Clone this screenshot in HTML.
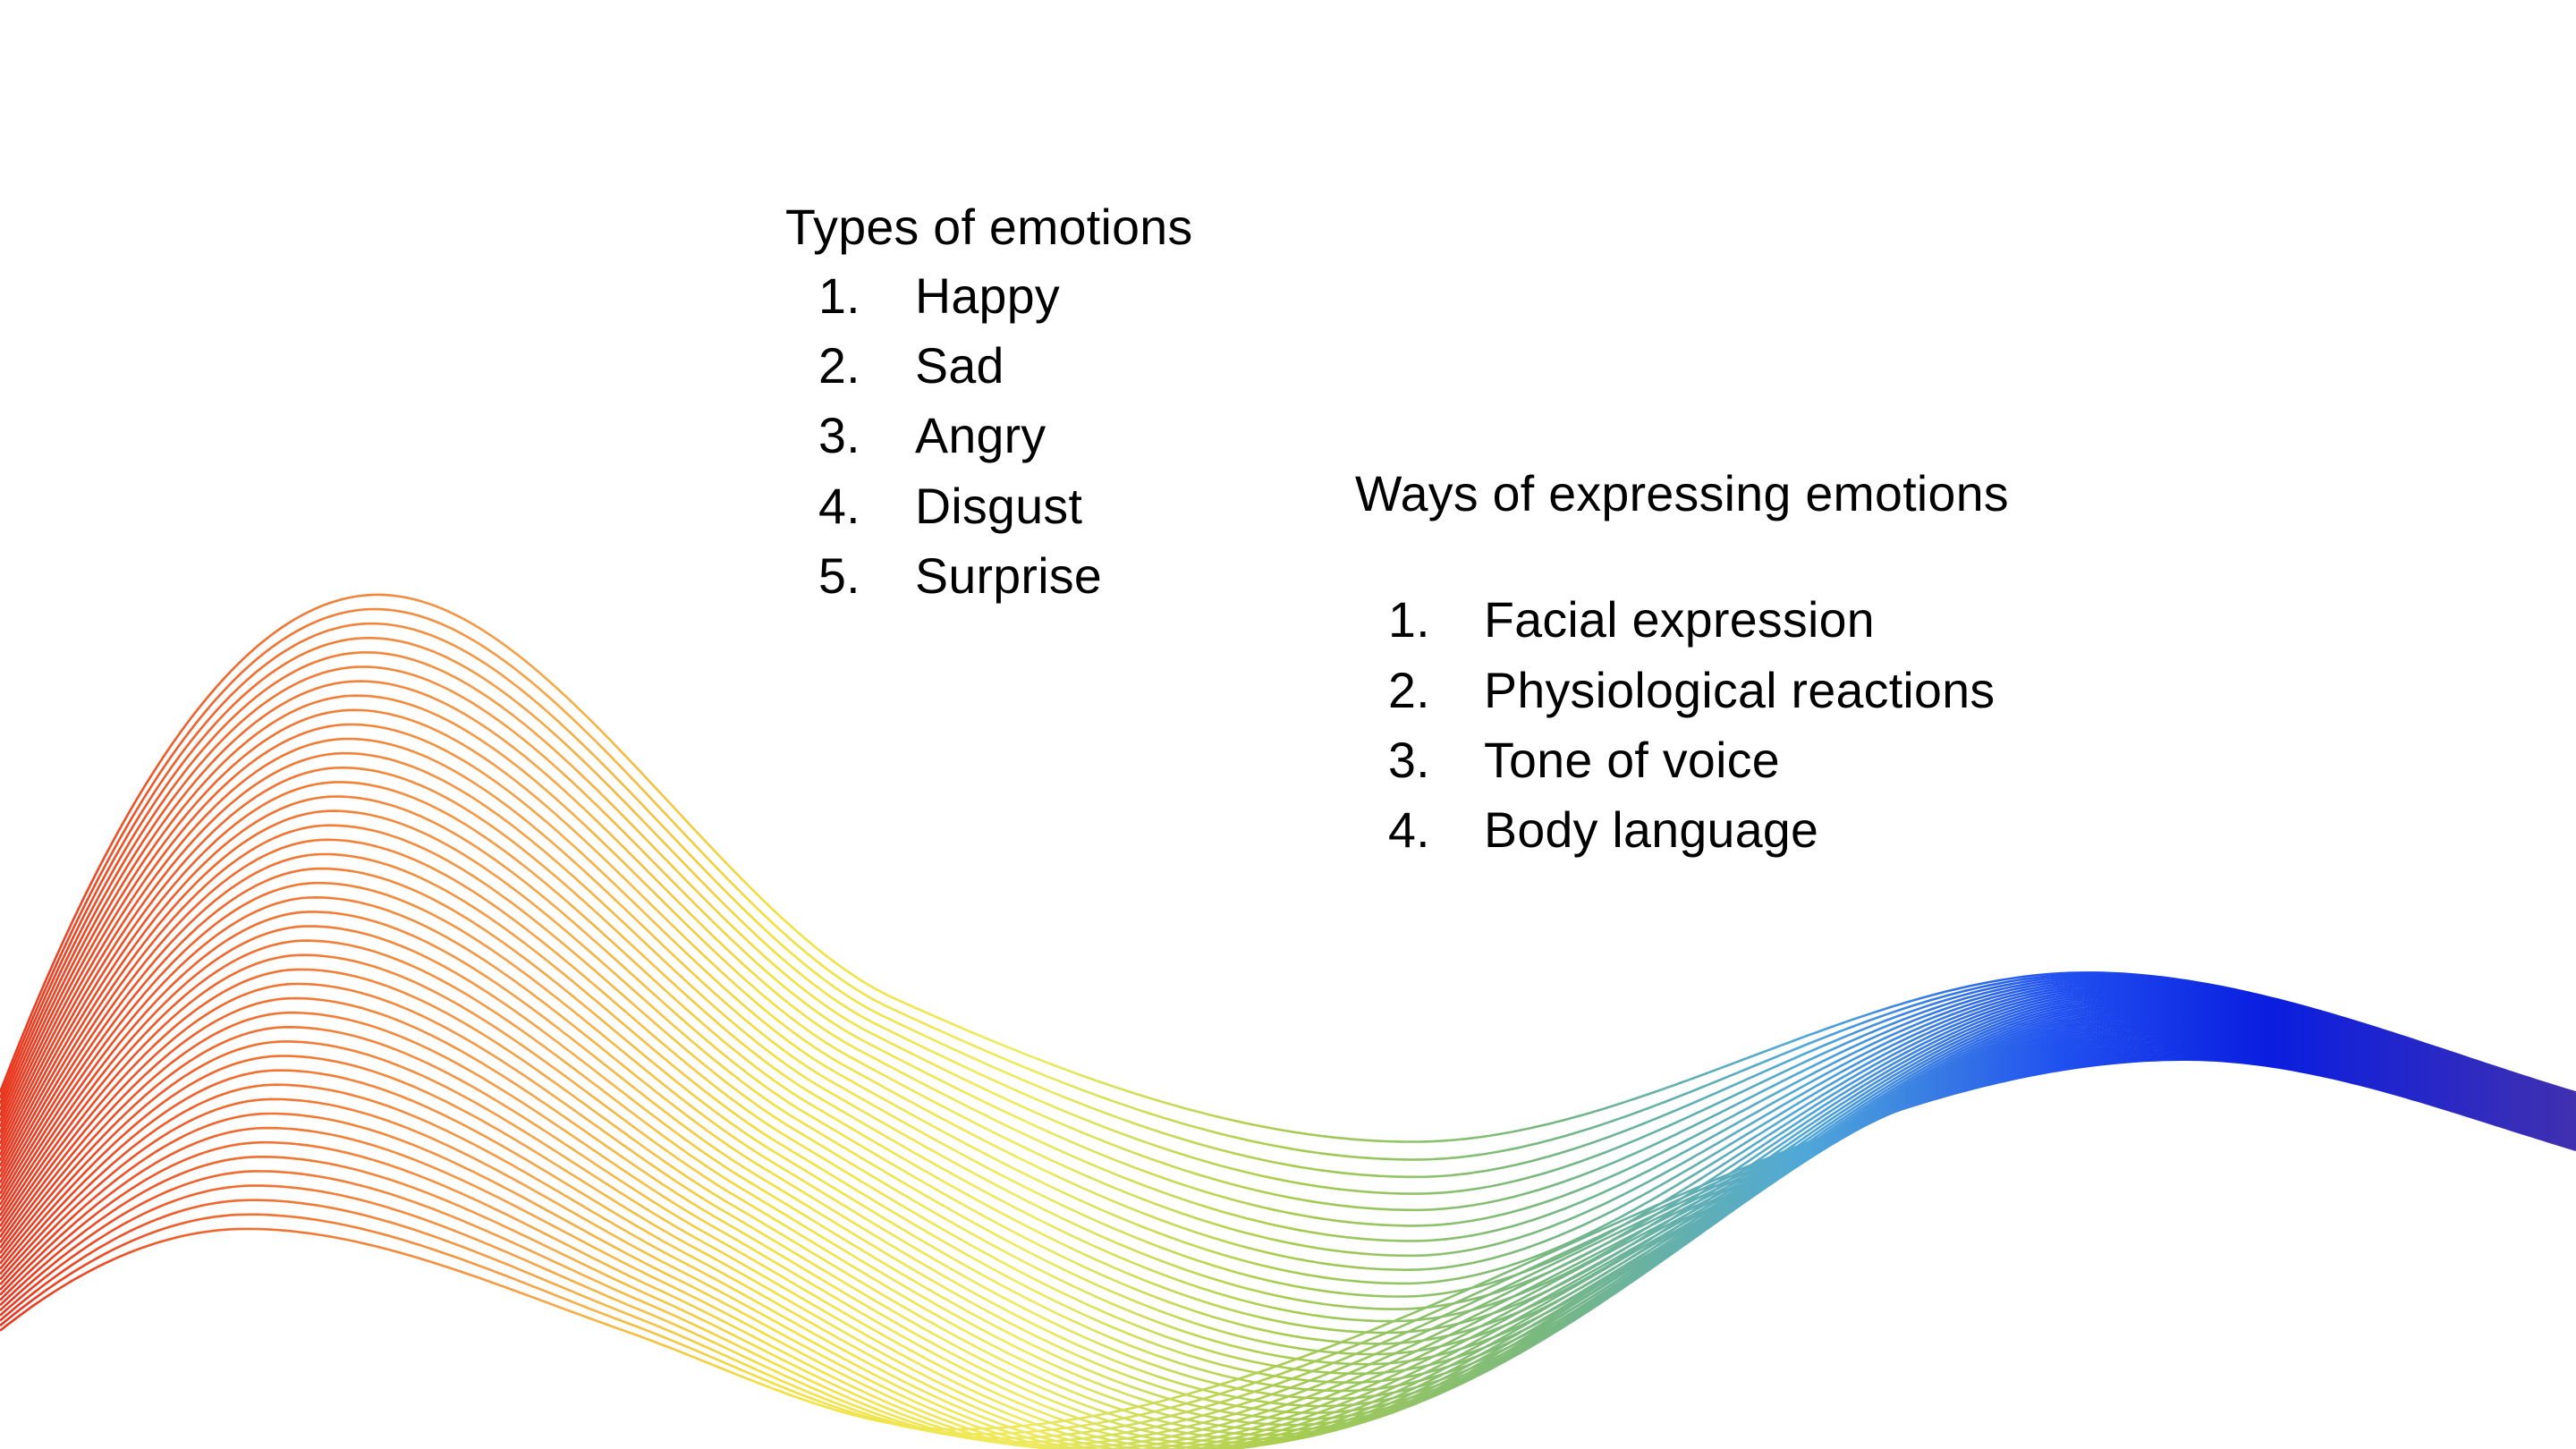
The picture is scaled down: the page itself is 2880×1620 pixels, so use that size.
<!DOCTYPE html>
<html><head><meta charset="utf-8"><style>
html,body{margin:0;padding:0;background:#fff;}
#wrap{position:relative;width:2880px;height:1620px;overflow:hidden;font-family:"Liberation Sans",Helvetica,Arial,sans-serif;color:#000;}
svg{position:absolute;left:0;top:0;}
.t{position:absolute;font-size:55.5px;white-space:nowrap;line-height:1;letter-spacing:0.3px;}
</style></head><body>
<div id="wrap">
<svg id="wave" width="2880" height="1620" viewBox="0 0 2880 1620">
<defs><linearGradient id="rg" gradientUnits="userSpaceOnUse" x1="0" y1="0" x2="2880" y2="0">
<stop offset="0" stop-color="#e8361f"/><stop offset="0.1" stop-color="#f07030"/>
<stop offset="0.2" stop-color="#f4a048"/><stop offset="0.3" stop-color="#f2e040"/>
<stop offset="0.4" stop-color="#eeea60"/><stop offset="0.5" stop-color="#a8cc50"/>
<stop offset="0.6" stop-color="#78b880"/><stop offset="0.7" stop-color="#50a8d8"/>
<stop offset="0.8" stop-color="#2050f0"/><stop offset="0.88" stop-color="#0a1ee0"/>
<stop offset="1" stop-color="#4030b0"/></linearGradient></defs>
<g id="lines"></g>
</svg>
<div class="t" style="left:878px;top:227px">Types of emotions</div>
<div class="t" style="left:915px;top:304px">1.</div><div class="t" style="left:1023px;top:304px">Happy</div>
<div class="t" style="left:915px;top:382px">2.</div><div class="t" style="left:1023px;top:382px">Sad</div>
<div class="t" style="left:915px;top:460px">3.</div><div class="t" style="left:1023px;top:460px">Angry</div>
<div class="t" style="left:915px;top:539px">4.</div><div class="t" style="left:1023px;top:539px">Disgust</div>
<div class="t" style="left:915px;top:617px">5.</div><div class="t" style="left:1023px;top:617px">Surprise</div>
<div class="t" style="left:1515px;top:525px">Ways of expressing emotions</div>
<div class="t" style="left:1552px;top:666px">1.</div><div class="t" style="left:1659px;top:666px">Facial expression</div>
<div class="t" style="left:1552px;top:745px">2.</div><div class="t" style="left:1659px;top:745px">Physiological reactions</div>
<div class="t" style="left:1552px;top:823px">3.</div><div class="t" style="left:1659px;top:823px">Tone of voice</div>
<div class="t" style="left:1552px;top:901px">4.</div><div class="t" style="left:1659px;top:901px">Body language</div>
</div>
<script>
const S = 2880/1568;
// knots: [x, y, slope]
const topCurve = [[0,665,-2.6],[230,362,0],[545,608,0.45],[860,695,0],[1270,592,0],[1568,665,0.3]];
const midCurve = [[0,740,-1.6],[190,555,0],[460,715,0.6],[800,860,0],[1300,618,0],[1568,685,0.3]];
const botCurve = [[0,810,-0.8],[150,748,0],[380,810,0.35],[580,870,0],[1330,645,0],[1568,700,0.3]];
const N = 45;
function q(a,b,c,t){return (1-t)*(1-t)*a+2*t*(1-t)*(2*b-(a+c)/2)+t*t*c;}
function curveAt(t){return topCurve.map((p,i)=>[0,1,2].map(j=>q(p[j],midCurve[i][j],botCurve[i][j],t)));}
function evalH(k,x){for(let i=0;i<k.length-1;i++){const a=k[i],b=k[i+1];if(x<=b[0]||i===k.length-2){
 const h=b[0]-a[0],s=(x-a[0])/h,s2=s*s,s3=s2*s;
 return (2*s3-3*s2+1)*a[1]+(s3-2*s2+s)*h*a[2]+(-2*s3+3*s2)*b[1]+(s3-s2)*h*b[2];}}}
const g=document.getElementById('lines');
for(let n=0;n<N;n++){const t=n/(N-1);const k=curveAt(t);let d='';
 for(let x=0;x<=1568;x+=4){const y=evalH(k,x);d+=(x?'L':'M')+(x*S).toFixed(1)+' '+(y*S).toFixed(1);}
 const p=document.createElementNS('http://www.w3.org/2000/svg','path');
 p.setAttribute('d',d);p.setAttribute('fill','none');p.setAttribute('stroke','url(#rg)');p.setAttribute('stroke-width','2.6');
 
 
 g.appendChild(p);}
</script>
</body></html>
